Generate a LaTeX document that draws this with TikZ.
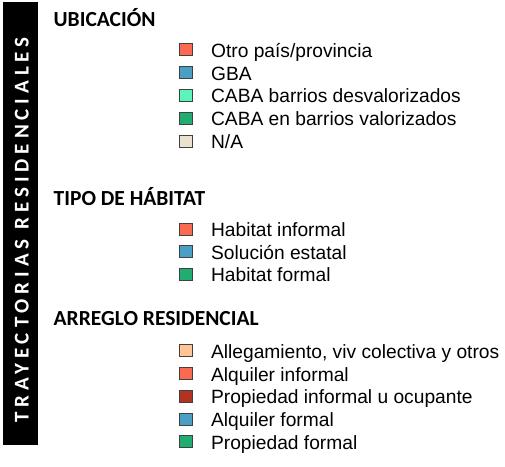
\documentclass[tikz,border=0pt]{standalone}
\usepackage{fontspec}
\setmainfont{Liberation Sans}
\newfontfamily\titulofont{Carlito}
\newfontfamily\barrafont{Carlito}[LetterSpace=23.5]
\usepackage{tikz}
\usetikzlibrary{positioning}
\definecolor{otro}{HTML}{FA6A52}
\definecolor{gba}{HTML}{4B9FC5}
\definecolor{cabades}{HTML}{5CF5B9}
\definecolor{cabaval}{HTML}{20AD70}
\definecolor{sindato}{HTML}{E8E2CF}
\definecolor{allega}{HTML}{FFC597}
\definecolor{propinf}{HTML}{B33322}
\tikzstyle{barra} = [fill=black, rectangle, inner sep=0pt]
\tikzstyle{textobarra} = [text=white, inner sep=0pt, font=\barrafont\bfseries\fontsize{21}{23}\selectfont]
\tikzstyle{titulo} = [inner sep=0pt, anchor=base west, font=\titulofont\bfseries\fontsize{21.5}{23}\selectfont]
\tikzstyle{caja} = [draw=black!75, line width=0.8pt, rectangle, minimum width=13pt, minimum height=12pt, inner sep=0pt]
\tikzstyle{etiqueta} = [inner sep=0pt, anchor=west, text height=17pt, text depth=2pt, font=\fontsize{19.2}{21}\selectfont]

\begin{document}
\begin{tikzpicture}[x=1pt, y=-1pt]
	\useasboundingbox (0,0) rectangle (505,466);
	\node[barra, minimum width=35.6pt, minimum height=443pt] (barra) at (20.5,223.5) {};
	\node[textobarra, rotate=90] (trayectorias) at (21.7,230) {TRAYECTORIAS RESIDENCIALES};
	% ubicacion
	\node[titulo] (ubicacion) at (53.5,26.7) {UBICACIÓN};
	\node[caja, fill=otro] (otro) at (186,49.8) {};
	\node[etiqueta, right=18pt of otro] {Otro país/provincia};
	\node[caja, fill=gba] (gba) at (186,72.6) {};
	\node[etiqueta, right=18pt of gba] {GBA};
	\node[caja, fill=cabades] (cabades) at (186,95.4) {};
	\node[etiqueta, right=18pt of cabades] {CABA barrios desvalorizados};
	\node[caja, fill=cabaval] (cabaval) at (186,118.2) {};
	\node[etiqueta, right=18pt of cabaval] {CABA en barrios valorizados};
	\node[caja, fill=sindato] (sindato) at (186,141) {};
	\node[etiqueta, right=18pt of sindato] {N/A};
	% tipo de habitat
	\node[titulo] (habitat) at (53.5,205) {TIPO DE HÁBITAT};
	\node[caja, fill=otro] (habinf) at (186,229) {};
	\node[etiqueta, right=18pt of habinf] {Habitat informal};
	\node[caja, fill=gba] (estatal) at (186,251.5) {};
	\node[etiqueta, right=18pt of estatal] {Solución estatal};
	\node[caja, fill=cabaval] (habfor) at (186,274) {};
	\node[etiqueta, right=18pt of habfor] {Habitat formal};
	% arreglo residencial
	\node[titulo] (arreglo) at (53.5,325) {ARREGLO RESIDENCIAL};
	\node[caja, fill=allega] (allega) at (186,350.8) {};
	\node[etiqueta, right=18pt of allega] {Allegamiento, viv colectiva y otros};
	\node[caja, fill=otro] (alqinf) at (186,373.55) {};
	\node[etiqueta, right=18pt of alqinf] {Alquiler informal};
	\node[caja, fill=propinf] (propinf) at (186,396.3) {};
	\node[etiqueta, right=18pt of propinf] {Propiedad informal u ocupante};
	\node[caja, fill=gba] (alqfor) at (186,419.05) {};
	\node[etiqueta, right=18pt of alqfor] {Alquiler formal};
	\node[caja, fill=cabaval] (propfor) at (186,441.8) {};
	\node[etiqueta, right=18pt of propfor] {Propiedad formal};
\end{tikzpicture}
\end{document}
